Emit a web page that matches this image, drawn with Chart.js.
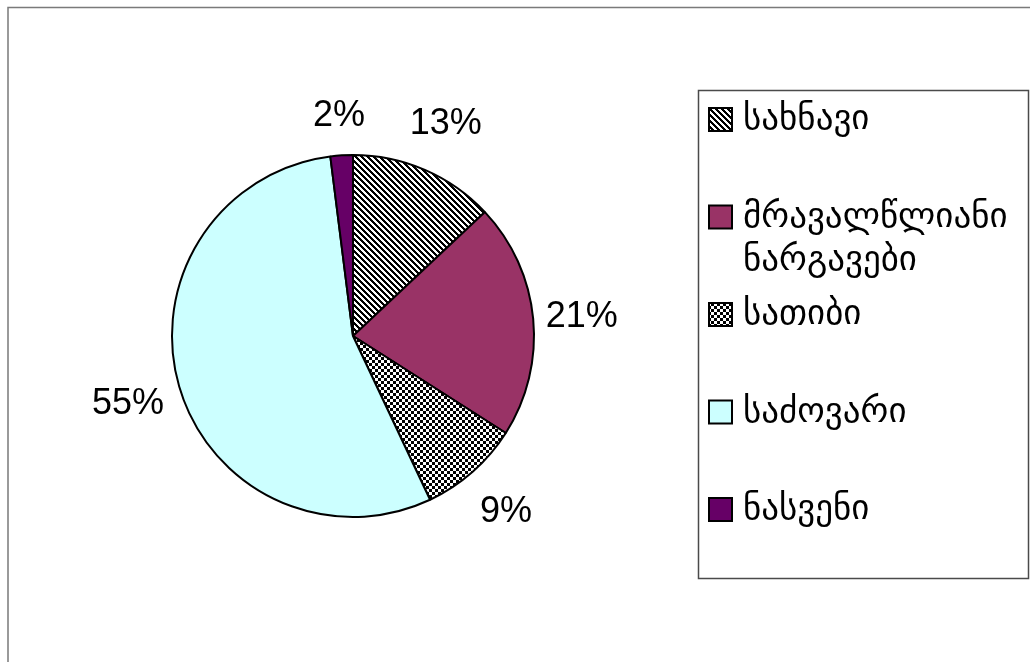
<!DOCTYPE html>
<html>
<head>
<meta charset="utf-8">
<script src="https://cdn.jsdelivr.net/npm/chart.js@4.4.1/dist/chart.umd.min.js"></script>
<style>
  html, body { margin: 0; padding: 0; background: #ffffff; }
  #wrap { position: relative; width: 1030px; height: 662px; }
</style>
</head>
<body>
<div id="wrap"><canvas id="c" width="1030" height="662"></canvas></div>
<script>
// ---- data ----
const categories = ['სახნავი', 'მრავალწლიანი ნარგავები', 'სათიბი', 'საძოვარი', 'ნასვენი'];
const shares = [13, 21, 9, 55, 2];
const percentLabels = ['13%', '21%', '9%', '55%', '2%'];

// ---- patterns ----
function makePattern(size, isBlack) {
  const c = document.createElement('canvas');
  c.width = size; c.height = size;
  const g = c.getContext('2d');
  g.fillStyle = '#ffffff';
  g.fillRect(0, 0, size, size);
  g.fillStyle = '#000000';
  for (let y = 0; y < size; y++) {
    for (let x = 0; x < size; x++) {
      if (isBlack(x, y)) g.fillRect(x, y, 1, 1);
    }
  }
  return g.createPattern(c, 'repeat');
}
const stripes = makePattern(6, (x, y) => (((x - y) % 6) + 6) % 6 < 3);
const checker = makePattern(6, (x, y) => ((Math.floor(x / 3) + Math.floor(y / 3)) % 2) === 0);
const fills = [stripes, '#993366', checker, '#CCFFFF', '#660066'];

// ---- plugins ----
const framePlugin = {
  id: 'frame',
  beforeDraw(chart) {
    const ctx = chart.ctx;
    ctx.save();
    ctx.fillStyle = '#ffffff';
    ctx.fillRect(0, 0, chart.width, chart.height);
    ctx.strokeStyle = '#7a7a7a';
    ctx.lineWidth = 1.5;
    ctx.beginPath();
    ctx.moveTo(8, chart.height);
    ctx.lineTo(8, 7.5);
    ctx.lineTo(chart.width, 7.5);
    ctx.stroke();
    ctx.restore();
  }
};

const pctLabelPlugin = {
  id: 'pctLabels',
  afterDatasetsDraw(chart) {
    const ctx = chart.ctx;
    const meta = chart.getDatasetMeta(0);
    const fontSize = 36;
    const capH = fontSize * 0.716;
    ctx.save();
    ctx.font = fontSize + 'px "Liberation Sans", Arial, sans-serif';
    ctx.fillStyle = '#000000';
    ctx.textAlign = 'center';
    ctx.textBaseline = 'alphabetic';
    meta.data.forEach((arc, i) => {
      const p = arc.getProps(['x', 'y', 'startAngle', 'endAngle', 'outerRadius'], true);
      const mid = (p.startAngle + p.endAngle) / 2;
      const dx = Math.cos(mid), dy = Math.sin(mid);
      const gap = 10 + 18 * Math.abs(dy);
      const txt = percentLabels[i];
      const w = ctx.measureText(txt).width;
      const ext = Math.abs(dx) * w / 2 + Math.abs(dy) * capH / 2;
      const d = p.outerRadius + gap + ext;
      const cx = p.x + dx * d, cy = p.y + dy * d;
      ctx.fillText(txt, cx, cy + capH / 2);
    });
    ctx.restore();
  }
};

const legendPlugin = {
  id: 'customLegend',
  afterDraw(chart) {
    const ctx = chart.ctx;
    const box = { x: 698.5, y: 90.5, w: 330, h: 488 };
    ctx.save();
    ctx.strokeStyle = '#4a4a4a';
    ctx.lineWidth = 1.5;
    ctx.strokeRect(box.x, box.y, box.w, box.h);
    const fontSize = 35;
    ctx.font = fontSize + 'px "DejaVu Sans", sans-serif';
    ctx.textBaseline = 'middle';
    ctx.textAlign = 'left';
    const slot = 97.5;
    const firstY = 119;
    const textX = 743;
    const maxW = box.x + box.w - textX - 4;
    const lineH = 43;
    const ds = chart.data.datasets[0];
    chart.data.labels.forEach((lab, i) => {
      const cy = firstY + i * slot;
      ctx.fillStyle = ds.backgroundColor[i];
      ctx.fillRect(709, cy - 11, 23, 23);
      ctx.strokeStyle = '#000000';
      ctx.lineWidth = 2;
      ctx.strokeRect(709, cy - 11, 23, 23);
      const words = lab.split(' ');
      const lines = [];
      let cur = '';
      words.forEach(wd => {
        const test = cur ? cur + ' ' + wd : wd;
        if (cur && ctx.measureText(test).width > maxW) { lines.push(cur); cur = wd; }
        else cur = test;
      });
      if (cur) lines.push(cur);
      ctx.fillStyle = '#000000';
      lines.forEach((ln, k) => ctx.fillText(ln, textX, cy + k * lineH + 1));
    });
    ctx.restore();
  }
};

new Chart(document.getElementById('c'), {
  type: 'pie',
  data: {
    labels: categories,
    datasets: [{
      data: shares,
      backgroundColor: fills,
      borderColor: '#000000',
      borderWidth: 2,
      hoverOffset: 0
    }]
  },
  options: {
    responsive: false,
    animation: false,
    events: [],
    radius: 181,
    layout: { padding: { left: 150, right: 474, top: 120, bottom: 110 } },
    plugins: {
      legend: { display: false },
      tooltip: { enabled: false },
      title: { display: false }
    }
  },
  plugins: [framePlugin, pctLabelPlugin, legendPlugin]
});
</script>
</body>
</html>
